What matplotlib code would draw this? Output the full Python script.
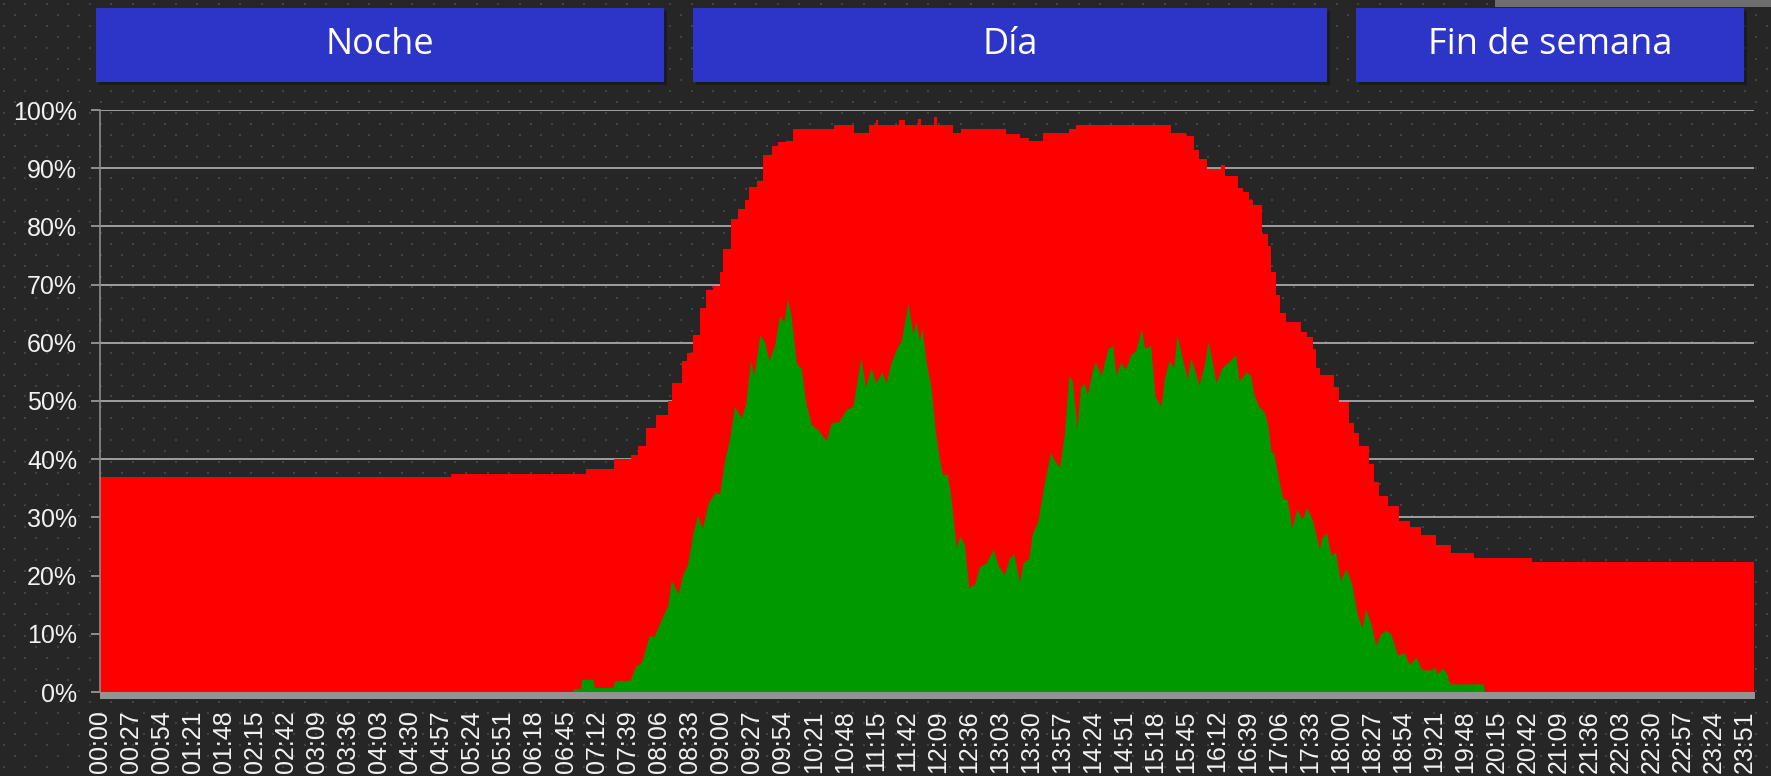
import matplotlib
matplotlib.use("Agg")
import matplotlib.pyplot as plt
from matplotlib.patches import Rectangle
import numpy as np

# ---------------- data ----------------
tick_labels = ["%02d:%02d" % divmod(m, 60) for m in range(0, 1440, 27)]
tick_minutes = list(range(0, 1440, 27))

header_labels = ["Noche", "Día", "Fin de semana"]

# total (red) series: minute of day -> percent (step)
red_min = [0, 305, 423, 447, 462, 468, 475, 484, 494, 498, 506, 511, 516, 522, 527, 533,
           539, 542, 549, 555, 561, 565, 572, 577, 585, 590, 597, 603, 639, 656, 669, 675,
           677, 695, 700, 712, 714, 726, 728, 742, 749, 788, 800, 808, 820, 843, 849, 932,
           945, 952, 956, 963, 975, 979, 990, 994, 1000, 1003, 1011, 1016, 1019, 1023, 1027,
           1032, 1045, 1050, 1055, 1058, 1061, 1074, 1078, 1087, 1091, 1095, 1104, 1108, 1113,
           1121, 1130, 1140, 1149, 1162, 1175, 1195, 1246, 1439]
red_pct = [36.9, 37.4, 38.4, 40.0, 40.7, 42.3, 45.4, 47.6, 50.0, 53.1, 56.9, 58.3, 61.3, 65.9,
           69.1, 69.8, 72.2, 76.1, 81.3, 83.0, 84.5, 86.8, 87.8, 92.2, 93.8, 94.5, 94.7, 96.8,
           97.4, 96.1, 97.4, 98.3, 97.4, 98.2, 97.4, 98.5, 97.4, 98.8, 97.4, 96.1, 96.8, 95.8,
           95.2, 94.6, 96.0, 96.8, 97.4, 96.0, 95.5, 93.2, 91.6, 89.9, 90.6, 88.6, 86.6, 85.9,
           84.6, 83.7, 78.7, 76.7, 72.2, 68.2, 65.2, 63.6, 61.9, 61.0, 59.0, 55.7, 54.5, 52.4,
           49.8, 46.2, 44.5, 42.3, 39.2, 36.0, 33.7, 32.0, 29.4, 28.4, 26.9, 25.3, 23.9, 23.1,
           22.3, 22.3]

# green series: minute of day -> percent
green_min = [0, 411, 412, 418, 419, 429, 430, 446, 448, 461, 466, 471, 478, 482, 488, 494, 497,
             503, 507, 511, 516, 520, 524, 529, 535, 539, 543, 548, 552, 558, 562, 566, 569, 574,
             578, 582, 587, 591, 595, 598, 601, 606, 610, 614, 619, 624, 632, 636, 643, 649, 655,
             658, 662, 666, 671, 675, 680, 684, 688, 693, 697, 700, 703, 707, 710, 713, 715, 719,
             723, 727, 730, 733, 737, 740, 745, 748, 752, 756, 761, 765, 771, 777, 782, 787, 791,
             795, 800, 803, 808, 811, 816, 819, 823, 827, 831, 835, 839, 843, 846, 850, 853, 856,
             859, 863, 866, 871, 877, 881, 884, 888, 892, 897, 901, 906, 909, 914, 918, 923, 926,
             930, 934, 937, 942, 946, 949, 953, 956, 961, 964, 968, 971, 976, 982, 988, 991, 997,
             1001, 1004, 1008, 1013, 1016, 1019, 1021, 1026, 1029, 1033, 1037, 1041, 1046, 1050,
             1055, 1061, 1063, 1067, 1071, 1075, 1079, 1084, 1089, 1094, 1098, 1101, 1106, 1110,
             1114, 1119, 1123, 1129, 1135, 1139, 1145, 1150, 1159, 1161, 1163, 1168, 1172, 1174,
             1203, 1205, 1439]
green_pct = [0, 0, 0.6, 0.6, 2.2, 2.2, 0.8, 0.8, 2.0, 2.0, 4.4, 5.1, 9.7, 9.5, 12.3, 14.9, 19.2,
             16.9, 20.2, 21.8, 27.4, 30.4, 28.1, 32.4, 34.4, 34.0, 39.3, 43.8, 49.1, 47.1, 49.8,
             57.0, 54.4, 61.3, 60.3, 57.0, 59.6, 64.6, 63.6, 67.5, 64.9, 56.4, 55.7, 49.8, 45.9,
             45.2, 43.2, 46.2, 46.5, 48.5, 49.1, 52.7, 57.4, 52.4, 55.7, 53.1, 55.0, 53.1, 56.4,
             59.0, 60.3, 63.6, 66.8, 61.6, 63.6, 60.3, 62.6, 56.4, 52.4, 44.5, 40.5, 37.3, 37.5,
             34.0, 24.8, 26.8, 25.4, 17.9, 18.6, 21.5, 22.2, 24.5, 21.5, 20.2, 22.9, 23.8, 18.9,
             22.2, 22.9, 27.1, 29.4, 33.0, 37.3, 41.2, 39.6, 38.7, 44.5, 54.4, 53.4, 45.2, 52.4,
             53.1, 51.1, 55.0, 56.7, 54.4, 59.0, 59.6, 54.4, 56.7, 55.4, 58.0, 58.6, 62.3, 59.0,
             59.6, 50.8, 49.1, 53.8, 57.0, 55.7, 61.3, 57.0, 53.8, 57.4, 55.0, 52.7, 56.4, 60.3,
             56.4, 53.1, 55.7, 56.7, 58.0, 53.4, 55.0, 54.4, 51.1, 49.1, 48.1, 45.9, 41.2, 41.2,
             36.0, 33.3, 33.0, 28.1, 31.4, 29.7, 31.7, 29.4, 24.5, 26.5, 27.4, 23.5, 24.1, 19.2,
             21.2, 18.6, 13.3, 11.0, 14.3, 11.6, 8.0, 10.0, 10.6, 10.0, 6.4, 6.7, 4.7, 6.0, 3.8,
             3.8, 4.4, 3.1, 4.1, 3.1, 1.4, 1.4, 0, 0]

# ---------------- figure ----------------
W, H = 1771, 776
BG = "#262626"
fig = plt.figure(figsize=(W / 100, H / 100), dpi=100, facecolor=BG)

# background layer (pixel coordinates)
bg = fig.add_axes([0, 0, 1, 1], zorder=-1)
bg.set_xlim(0, W)
bg.set_ylim(H, 0)
bg.axis("off")
bg.set_facecolor(BG)

dx, dy = 21.5, 10.9
pts_x, pts_y = [], []
for r, yy in enumerate(np.arange(4, H, dy)):
    off = 0 if r % 2 == 0 else dx / 2
    for xx in np.arange(4 + off, W, dx):
        pts_x.append(xx)
        pts_y.append(yy)
bg.scatter(pts_x, pts_y, s=3.2, marker="s", color="#424242", linewidths=0)

# top-right grey strip
bg.add_patch(Rectangle((1495, 0), W - 1495, 7, color="#6e6e6e", lw=0))

# header boxes
boxes = [(96, 664), (693, 1327), (1356, 1744)]
for (x0, x1), lab in zip(boxes, header_labels):
    bg.add_patch(Rectangle((x0 + 3, 11), x1 - x0, 74, color="#151515", alpha=0.6, lw=0))
    bg.add_patch(Rectangle((x0, 8), x1 - x0, 74, color="#2D35C9", lw=0))
    bg.text((x0 + x1) / 2, 54, lab, ha="center", va="baseline", color="white",
            fontsize=26, family=["Open Sans", "DejaVu Sans"])

# main axes
ax = fig.add_axes([100 / W, 84 / H, 1654 / W, 582 / H])
ax.set_facecolor("none")
ax.set_xlim(0, 1439)
ax.set_ylim(0, 100)

ax.fill_between(red_min, 0, red_pct, step="post", color="#FF0000", lw=0, zorder=2)
ax.fill_between(green_min, 0, green_pct, color="#009900", lw=0, zorder=3)

ax.set_yticks(range(0, 101, 10))
ax.set_yticklabels([f"{v}%" for v in range(0, 101, 10)])
ax.set_xticks(tick_minutes)
ax.set_xticklabels(tick_labels, rotation=90)

ax.grid(axis="y", color="#a8a8a8", lw=1.3, zorder=1)
ax.set_axisbelow(True)
ax.tick_params(axis="y", colors="#a0a0a0", length=6.5, width=1.2, pad=10,
               labelcolor="#f2f2f2", labelsize=18)
ax.tick_params(axis="x", length=0, pad=13, labelcolor="#f2f2f2", labelsize=18)
for lab in ax.get_xticklabels() + ax.get_yticklabels():
    lab.set_family(["Liberation Sans", "DejaVu Sans"])

for s in ["top", "right", "bottom"]:
    ax.spines[s].set_visible(False)
ax.spines["left"].set_color("#8c8c8c")
ax.spines["left"].set_linewidth(1.2)

# thick grey baseline
ax.add_patch(Rectangle((0, -7 / 582), 1.0005, 7 / 582, transform=ax.transAxes,
                       color="#939393", lw=0, clip_on=False, zorder=4))

fig.savefig("out.png", dpi=100, facecolor=BG)
